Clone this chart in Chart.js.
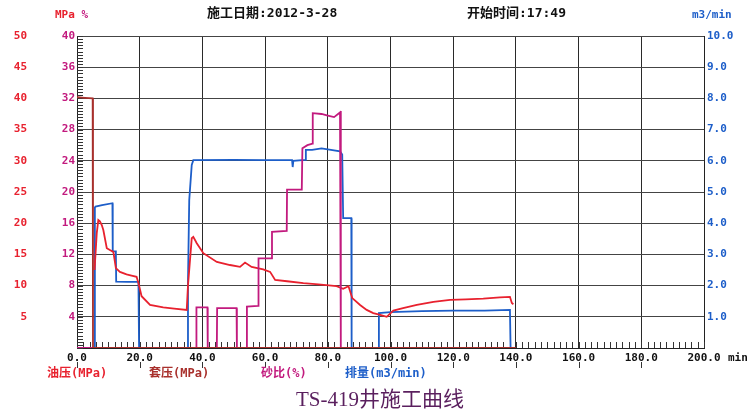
<!DOCTYPE html>
<html>
<head>
<meta charset="utf-8">
<title>TS-419井施工曲线</title>
<script src="https://cdn.jsdelivr.net/npm/chart.js@4.4.0/dist/chart.umd.min.js"></script>
<style>
  html, body { margin: 0; padding: 0; background: #fff; }
  #wrap { position: relative; width: 754px; height: 414px; overflow: hidden; background: #fff; }
  #chart { position: absolute; left: 0; top: 0; }
  .lbl { position: absolute; white-space: nowrap; line-height: 1; font-weight: bold;
         font-family: 'DejaVu Sans Mono', 'Noto Sans CJK SC', monospace; }
  .hdr { font-size: 13px; color: #111; }
  .leg { font-size: 12px; }
  #title { position: absolute; left: 0; width: 760px; top: 389px; text-align: center;
           font-family: 'Liberation Serif', 'Noto Sans CJK SC', serif; font-size: 21px;
           color: #5a1f5e; line-height: 1; white-space: nowrap; }
</style>
</head>
<body>
<div id="wrap">
  <canvas id="chart" width="754" height="414"></canvas>

  <!-- header -->
  <div class="lbl" style="left:55px; top:9px; font-size:11px;"><span style="color:#e8212e">MPa</span> <span style="color:#c21a7e">%</span></div>
  <div class="lbl hdr" style="left:207px; top:6px;">施工日期:2012-3-28</div>
  <div class="lbl hdr" style="left:467px; top:6px;">开始时间:17:49</div>
  <div class="lbl" style="left:692px; top:9px; font-size:11px; color:#1d5ec9;">m3/min</div>
  <div class="lbl" style="left:728px; top:352px; font-size:11px; color:#111;">min</div>

  <!-- legend -->
  <div class="lbl leg" style="left:47px; top:367px; color:#e8212e;">油压(MPa)</div>
  <div class="lbl leg" style="left:149px; top:367px; color:#a8302c;">套压(MPa)</div>
  <div class="lbl leg" style="left:261px; top:367px; color:#c21a7e;">砂比(%)</div>
  <div class="lbl leg" style="left:345px; top:367px; color:#1d5ec9;">排量(m3/min)</div>

  <div id="title">TS-419井施工曲线</div>
</div>

<script>
// time axis (min)
const xTicks = [0, 20, 40, 60, 80, 100, 120, 140, 160, 180, 200];

// 油压 (MPa)
const tubingT = [5.6, 6.3, 6.8, 7.3, 7.9, 8.4, 9.5, 10.5, 11.6, 12.4, 13.7, 15.8, 17.4, 19.0, 19.6, 20.6, 23.3, 27.5, 31, 35,
  35.4, 36.6, 37.1, 38.2, 40.3, 44.6, 48.8, 52, 53.6, 55.7, 59.4, 61.6, 63.2, 67, 72.2, 77, 82.8, 84.9, 86.6,
  87.8, 90.3, 92.4, 94.5, 96.7, 98.8, 100.9, 104, 108.4, 113.7, 119, 124, 129.6, 134.9, 138.1, 138.7, 139.2];
const tubingP = [12.5, 18.4, 20.5, 20.3, 19.7, 18.9, 16.0, 15.7, 15.4, 12.8, 12.2, 11.8, 11.6, 11.4, 10.4, 8.3, 6.9, 6.5, 6.3, 6.1,
  10, 17.6, 17.8, 16.8, 15.2, 13.8, 13.3, 13.0, 13.7, 13.0, 12.6, 12.2, 10.9, 10.7, 10.4, 10.2, 9.9, 9.5, 9.9,
  8.0, 6.9, 6.1, 5.6, 5.3, 5.0, 6.0, 6.4, 6.9, 7.4, 7.7, 7.8, 7.9, 8.1, 8.2, 7.2, 7.0];

// 套压 (MPa)
const casingT = [0, 2.5, 5.0, 5.1, 140];
const casingP = [40.2, 40.1, 40.0, 0, 0];

// 砂比 (%)
const sandT = [0, 38.0, 38.1, 41.6, 41.7, 44.6, 44.7, 50.9, 51.0, 54.1, 54.2, 57.8, 57.9, 62.1, 62.2, 66.9, 67.0,
  71.7, 71.9, 73.5, 75.1, 75.2, 78, 80, 82, 83.9, 84.1, 84.2, 139];
const sandV = [0, 0, 5.2, 5.2, 0, 0, 5.1, 5.1, 0, 0, 5.3, 5.4, 11.5, 11.5, 14.9, 15.0, 20.3,
  20.3, 25.6, 26.0, 26.2, 30.1, 30.0, 29.8, 29.6, 30.2, 30.4, 0, 0];

// 排量 (m3/min)
const rateT = [0, 5.6, 5.7, 5.9, 8, 11.3, 11.4, 12.4, 12.5, 16, 19.6, 19.8, 35.2, 35.4, 35.8, 36.6, 37.1, 50, 60,
  68.6, 68.8, 69.0, 72.8, 73.0, 75, 78, 81, 83.9, 84.6, 84.9, 87.5, 87.6, 96.1, 96.3, 100, 110, 120, 130, 138.1, 138.3];
const rateV = [0, 0, 4.5, 4.53, 4.58, 4.64, 3.1, 3.1, 2.13, 2.12, 2.12, 0, 0, 2.1, 4.74, 5.87, 6.02, 6.03, 6.02,
  6.02, 5.8, 6.0, 6.03, 6.35, 6.35, 6.4, 6.35, 6.3, 6.2, 4.16, 4.16, 0, 0, 1.12, 1.15, 1.18, 1.2, 1.2, 1.22, 0];

const pairs = (ts, vs) => ts.map((t, i) => ({ x: t, y: vs[i] }));

const RED = '#e8212e', DARKRED = '#a8302c', MAGENTA = '#c21a7e', BLUE = '#1d5ec9';
const tickFont = { family: 'DejaVu Sans Mono', weight: 'bold', size: 11 };

// small tick marks on the frame and under the time labels
const frameTicks = {
  id: 'frameTicks',
  beforeDatasetsDraw(chart) {
    const { ctx, chartArea: a, scales } = chart;
    ctx.save();
    ctx.strokeStyle = '#333';
    ctx.lineWidth = 1;
    ctx.beginPath();
    for (let t = 0; t <= 200; t += 2) {
      const px = Math.round(scales.x.getPixelForValue(t)) + 0.5;
      ctx.moveTo(px, a.bottom); ctx.lineTo(px, a.bottom - 6);
    }
    for (let k = 0; k <= 100; k++) {
      const py = Math.round(scales.ySand.getPixelForValue(k * 0.4)) + 0.5;
      ctx.moveTo(a.left, py); ctx.lineTo(a.left + 6, py);
    }
    for (let t = 0; t <= 180; t += 20) {
      const px = Math.round(scales.x.getPixelForValue(t)) + 0.5;
      ctx.moveTo(px, 362); ctx.lineTo(px, 368);
    }
    ctx.stroke();
    ctx.restore();
  }
};

const line = (label, data, color, axis, order) => ({
  label, data, borderColor: color, backgroundColor: color, yAxisID: axis, order,
  borderWidth: 1.8, pointRadius: 0, tension: 0, fill: false
});

new Chart(document.getElementById('chart').getContext('2d'), {
  type: 'line',
  data: {
    datasets: [
      line('套压(MPa)', pairs(casingT, casingP), DARKRED, 'yOil', 0),
      line('砂比(%)', pairs(sandT, sandV), MAGENTA, 'ySand', 1),
      line('油压(MPa)', pairs(tubingT, tubingP), RED, 'yOil', 2),
      line('排量(m3/min)', pairs(rateT, rateV), BLUE, 'yRate', 3)
    ]
  },
  options: {
    responsive: false,
    animation: false,
    devicePixelRatio: 1,
    layout: { padding: { top: 36, left: 0, right: 0, bottom: 0 } },
    plugins: { legend: { display: false }, title: { display: false }, tooltip: { enabled: false } },
    scales: {
      x: {
        type: 'linear', min: 0, max: 200,
        afterFit(s) { s.height = 66; },
        afterBuildTicks(s) { s.ticks = xTicks.map(v => ({ value: v })); },
        grid: { color: '#2a2a2a', lineWidth: 1, drawTicks: false },
        border: { color: '#222', width: 1 },
        ticks: { color: '#111', font: tickFont, padding: 4, maxRotation: 0, autoSkip: false,
                 callback: v => v.toFixed(1) }
      },
      yOil: {
        position: 'left', weight: 2, min: 0, max: 50,
        afterFit(s) { s.width = 45; },
        grid: { display: false },
        border: { display: false },
        ticks: { stepSize: 5, color: RED, font: tickFont, padding: 10,
                 callback: v => v === 0 ? '' : String(v) }
      },
      ySand: {
        position: 'left', weight: 1, min: 0, max: 40,
        afterFit(s) { s.width = 32; },
        grid: { color: '#444', lineWidth: 1, drawTicks: false },
        border: { color: '#222', width: 1 },
        ticks: { stepSize: 4, color: MAGENTA, font: tickFont, padding: 2,
                 callback: v => v === 0 ? '' : String(v) }
      },
      yRate: {
        position: 'right', min: 0, max: 10,
        afterFit(s) { s.width = 50; },
        grid: { drawOnChartArea: false, drawTicks: false },
        border: { color: '#222', width: 1 },
        ticks: { stepSize: 1, color: BLUE, font: tickFont, padding: 3,
                 callback: v => v === 0 ? '' : v.toFixed(1) }
      }
    }
  },
  plugins: [frameTicks]
});
</script>
</body>
</html>
